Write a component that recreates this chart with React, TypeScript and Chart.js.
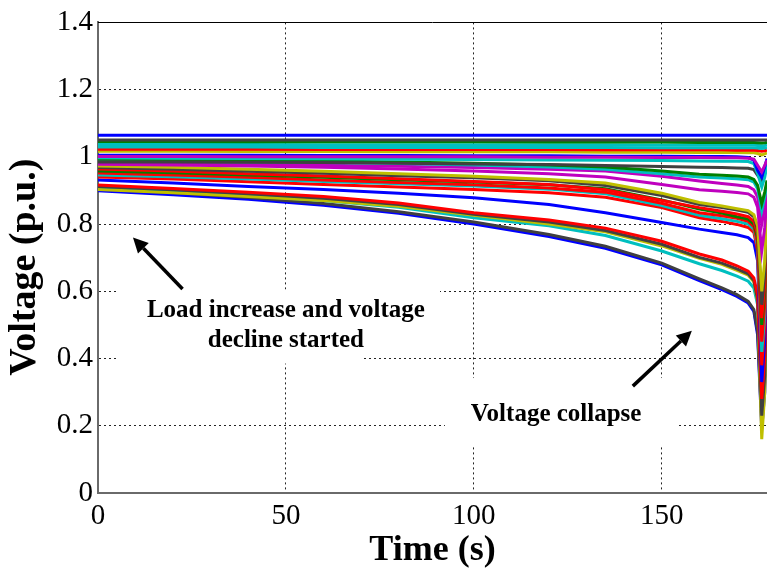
import React, { useEffect, useRef } from "react";
import { Chart, registerables } from "chart.js";

Chart.register(...registerables);

// ---------- data ----------
const timeSec = [0, 20, 40, 60, 80, 100, 120, 135, 150, 160, 166, 170, 173, 174.5, 175.5, 176.6, 177.4, 178];

const xTickValues = [0, 50, 100, 150];
const yTickValues = [0, 0.2, 0.4, 0.6, 0.8, 1, 1.2, 1.4];

// generator / strong buses (nearly constant)
const bus01 = [1.064, 1.064, 1.064, 1.064, 1.064, 1.064, 1.064, 1.064, 1.064, 1.064, 1.064, 1.064, 1.064, 1.064, 1.064, 1.064, 1.064, 1.064];
const bus02 = [1.050, 1.050, 1.050, 1.050, 1.050, 1.050, 1.050, 1.050, 1.050, 1.050, 1.050, 1.050, 1.050, 1.050, 1.050, 1.050, 1.050, 1.050];
const bus03 = [1.046, 1.046, 1.045, 1.045, 1.045, 1.045, 1.044, 1.044, 1.044, 1.043, 1.043, 1.043, 1.043, 1.043, 1.042, 1.041, 1.042, 1.043];
const bus04 = [1.037, 1.037, 1.037, 1.036, 1.036, 1.036, 1.036, 1.036, 1.035, 1.035, 1.035, 1.035, 1.035, 1.035, 1.034, 1.033, 1.034, 1.035];
const bus05 = [1.029, 1.029, 1.029, 1.028, 1.028, 1.028, 1.028, 1.028, 1.027, 1.027, 1.027, 1.027, 1.027, 1.027, 1.026, 1.025, 1.026, 1.027];
const bus06 = [1.023, 1.023, 1.023, 1.022, 1.022, 1.022, 1.022, 1.021, 1.021, 1.021, 1.021, 1.020, 1.020, 1.020, 1.019, 1.017, 1.018, 1.020];
const bus07 = [1.017, 1.017, 1.016, 1.016, 1.015, 1.015, 1.015, 1.014, 1.014, 1.013, 1.013, 1.013, 1.012, 1.012, 1.010, 1.006, 1.009, 1.012];
// upper load buses
const bus08 = [1.001, 1.001, 1.000, 1.000, 1.000, 1.000, 0.999, 0.999, 0.998, 0.998, 0.997, 0.997, 0.996, 0.993, 0.975, 0.955, 0.975, 0.990];
const bus09 = [1.005, 1.005, 1.005, 1.004, 1.004, 1.003, 1.003, 1.002, 1.002, 1.001, 1.001, 1.000, 0.998, 0.990, 0.960, 0.940, 0.970, 0.995];
const bus10 = [0.997, 0.996, 0.995, 0.994, 0.993, 0.992, 0.991, 0.990, 0.989, 0.988, 0.987, 0.987, 0.986, 0.980, 0.950, 0.910, 0.940, 0.975];
const bus11 = [0.985, 0.985, 0.984, 0.983, 0.981, 0.979, 0.977, 0.974, 0.971, 0.969, 0.968, 0.967, 0.966, 0.962, 0.945, 0.930, 0.950, 0.965];
const bus12 = [0.993, 0.992, 0.990, 0.988, 0.985, 0.981, 0.976, 0.970, 0.958, 0.948, 0.945, 0.943, 0.940, 0.933, 0.915, 0.860, 0.895, 0.930];
const bus13 = [0.988, 0.987, 0.985, 0.983, 0.980, 0.976, 0.970, 0.963, 0.950, 0.940, 0.937, 0.935, 0.932, 0.925, 0.905, 0.840, 0.880, 0.920];
const bus14 = [0.983, 0.981, 0.978, 0.975, 0.972, 0.968, 0.963, 0.958, 0.942, 0.928, 0.921, 0.916, 0.912, 0.902, 0.880, 0.800, 0.850, 0.900];
const bus15 = [0.978, 0.976, 0.973, 0.969, 0.964, 0.958, 0.950, 0.940, 0.918, 0.902, 0.898, 0.894, 0.890, 0.880, 0.850, 0.720, 0.790, 0.880];
// middle load buses
const bus16 = [0.973, 0.969, 0.963, 0.957, 0.950, 0.942, 0.933, 0.922, 0.892, 0.864, 0.854, 0.846, 0.840, 0.828, 0.795, 0.600, 0.690, 0.840];
const bus17 = [0.968, 0.963, 0.957, 0.951, 0.944, 0.938, 0.929, 0.915, 0.885, 0.858, 0.849, 0.842, 0.835, 0.822, 0.785, 0.560, 0.650, 0.830];
const bus18 = [0.964, 0.958, 0.950, 0.943, 0.935, 0.927, 0.918, 0.902, 0.870, 0.849, 0.838, 0.830, 0.822, 0.808, 0.770, 0.520, 0.620, 0.810];
const bus19 = [0.958, 0.953, 0.946, 0.939, 0.932, 0.925, 0.917, 0.905, 0.872, 0.845, 0.833, 0.822, 0.815, 0.800, 0.760, 0.500, 0.600, 0.800];
const bus20 = [0.952, 0.946, 0.939, 0.931, 0.924, 0.917, 0.907, 0.895, 0.862, 0.834, 0.825, 0.817, 0.808, 0.792, 0.745, 0.450, 0.560, 0.780];
const bus21 = [0.946, 0.941, 0.934, 0.927, 0.920, 0.913, 0.904, 0.890, 0.855, 0.826, 0.816, 0.808, 0.800, 0.785, 0.735, 0.420, 0.530, 0.760];
const bus22 = [0.940, 0.934, 0.926, 0.918, 0.910, 0.903, 0.893, 0.880, 0.849, 0.819, 0.808, 0.799, 0.790, 0.775, 0.720, 0.380, 0.500, 0.740];
const bus23 = [0.931, 0.922, 0.912, 0.903, 0.892, 0.878, 0.858, 0.834, 0.805, 0.785, 0.775, 0.768, 0.760, 0.745, 0.690, 0.330, 0.450, 0.700];
// weakest load buses
const bus24 = [0.916, 0.906, 0.895, 0.882, 0.863, 0.834, 0.812, 0.788, 0.749, 0.711, 0.693, 0.676, 0.660, 0.640, 0.590, 0.280, 0.400, 0.640];
const bus25 = [0.912, 0.902, 0.890, 0.877, 0.858, 0.829, 0.806, 0.781, 0.740, 0.701, 0.684, 0.667, 0.652, 0.632, 0.575, 0.230, 0.350, 0.620];
const bus26 = [0.903, 0.893, 0.882, 0.870, 0.853, 0.826, 0.800, 0.777, 0.735, 0.698, 0.680, 0.662, 0.648, 0.628, 0.570, 0.160, 0.300, 0.600];
const bus27 = [0.908, 0.897, 0.884, 0.870, 0.850, 0.819, 0.795, 0.766, 0.720, 0.682, 0.662, 0.645, 0.630, 0.610, 0.560, 0.250, 0.380, 0.620];
const bus28 = [0.905, 0.893, 0.879, 0.861, 0.837, 0.806, 0.769, 0.734, 0.684, 0.637, 0.610, 0.590, 0.570, 0.546, 0.480, 0.210, 0.330, 0.580];
const bus29 = [0.899, 0.887, 0.874, 0.856, 0.832, 0.800, 0.763, 0.728, 0.679, 0.632, 0.605, 0.585, 0.565, 0.540, 0.470, 0.190, 0.300, 0.560];

const busSeries = [
  bus01, bus02, bus03, bus04, bus05, bus06, bus07, bus08, bus09, bus10,
  bus11, bus12, bus13, bus14, bus15, bus16, bus17, bus18, bus19, bus20,
  bus21, bus22, bus23, bus24, bus25, bus26, bus27, bus28, bus29,
];

// ---------- styles ----------
const BLUE = "#0000FF";
const GREEN = "#008000";
const RED = "#FF0000";
const CYAN = "#00BFBF";
const MAGENTA = "#BF00BF";
const YELLOW = "#BFBF00";
const DGRAY = "#404040";

const lineColors = [
  BLUE, DGRAY, GREEN, CYAN, CYAN, RED, YELLOW, MAGENTA, BLUE, CYAN,
  DGRAY, GREEN, CYAN, MAGENTA, MAGENTA, YELLOW, DGRAY, RED, GREEN, RED,
  CYAN, RED, BLUE, RED, DGRAY, YELLOW, CYAN, DGRAY, BLUE,
];

const SERIF = '"Liberation Serif", "Times New Roman", Times, serif';

// annotations (in data coordinates)
const noteBoxes = [
  { t0: 5.3, t1: 91, v0: 0.42, v1: 0.605 },
  { t0: 5.3, t1: 70, v0: 0.385, v1: 0.42 },
  { t0: 92.3, t1: 154.3, v0: 0.142, v1: 0.342 },
];
const noteTexts = [
  { text: "Load increase and voltage", t: 50, v: 0.525 },
  { text: "decline started", t: 50, v: 0.435 },
  { text: "Voltage collapse", t: 121.9, v: 0.215 },
];
const noteArrows = [
  { t0: 22.5, v0: 0.607, t1: 9.3, v1: 0.76 },
  { t0: 142.3, v0: 0.318, t1: 158.0, v1: 0.483 },
];

function drawArrow(ctx: CanvasRenderingContext2D, x1: number, y1: number, x2: number, y2: number) {
  const ang = Math.atan2(y2 - y1, x2 - x1);
  const headLen = 15;
  const headW = 7.5;
  const bx = x2 - headLen * Math.cos(ang);
  const by = y2 - headLen * Math.sin(ang);
  ctx.lineWidth = 3.5;
  ctx.strokeStyle = "#000";
  ctx.fillStyle = "#000";
  ctx.beginPath();
  ctx.moveTo(x1, y1);
  ctx.lineTo(bx, by);
  ctx.stroke();
  ctx.beginPath();
  ctx.moveTo(x2, y2);
  ctx.lineTo(bx + headW * Math.sin(ang), by - headW * Math.cos(ang));
  ctx.lineTo(bx - headW * Math.sin(ang), by + headW * Math.cos(ang));
  ctx.closePath();
  ctx.fill();
}

const annotationPlugin = {
  id: "voltageNotes",
  beforeDatasetsDraw(chart: any) {
    const { ctx, scales, chartArea } = chart;
    const xs = scales.x;
    const ys = scales.y;
    ctx.save();
    ctx.fillStyle = "#fff";
    for (const b of noteBoxes) {
      const x0 = xs.getPixelForValue(b.t0);
      const x1 = xs.getPixelForValue(b.t1);
      const y0 = ys.getPixelForValue(b.v1);
      const y1 = ys.getPixelForValue(b.v0);
      ctx.fillRect(x0, y0, x1 - x0, y1 - y0);
    }
    // top border of the axes box
    ctx.strokeStyle = "#000";
    ctx.lineWidth = 1;
    ctx.beginPath();
    ctx.moveTo(chartArea.left, Math.round(chartArea.top) + 0.5);
    ctx.lineTo(chartArea.right, Math.round(chartArea.top) + 0.5);
    ctx.stroke();
    ctx.restore();
  },
  afterDatasetsDraw(chart: any) {
    const { ctx, scales } = chart;
    const xs = scales.x;
    const ys = scales.y;
    ctx.save();
    ctx.font = `bold 25px ${SERIF}`;
    ctx.fillStyle = "#000";
    ctx.textAlign = "center";
    ctx.textBaseline = "alphabetic";
    for (const n of noteTexts) {
      ctx.fillText(n.text, xs.getPixelForValue(n.t), ys.getPixelForValue(n.v));
    }
    for (const a of noteArrows) {
      drawArrow(
        ctx,
        xs.getPixelForValue(a.t0),
        ys.getPixelForValue(a.v0),
        xs.getPixelForValue(a.t1),
        ys.getPixelForValue(a.v1)
      );
    }
    ctx.restore();
  },
};

export default function App() {
  const canvasRef = useRef<HTMLCanvasElement>(null);

  useEffect(() => {
    if (!canvasRef.current) return;
    const datasets = busSeries.map((vals, i) => ({
      label: `Bus ${i + 1}`,
      data: vals.map((v, j) => ({ x: timeSec[j], y: v })),
      borderColor: lineColors[i],
      backgroundColor: lineColors[i],
      borderWidth: 3,
      pointRadius: 0,
      tension: 0,
      fill: false,
    }));

    const chart = new Chart(canvasRef.current, {
      type: "line",
      data: { datasets },
      plugins: [annotationPlugin],
      options: {
        animation: false,
        responsive: false,
        devicePixelRatio: 1,
        layout: { padding: { top: 18, left: 0, right: 0, bottom: 0 } },
        plugins: {
          legend: { display: false },
          tooltip: { enabled: false },
        },
        scales: {
          x: {
            type: "linear",
            min: 0,
            max: 178,
            afterBuildTicks: (s: any) => {
              s.ticks = xTickValues.map((v) => ({ value: v }));
            },
            afterFit: (s: any) => {
              s.height = 76;
              s.paddingLeft = 0;
              s.paddingRight = 0;
            },
            ticks: {
              color: "#000",
              font: { family: SERIF, size: 29 },
              padding: 6,
              maxRotation: 0,
              autoSkip: false,
              callback: (v: any) => String(v),
            },
            grid: {
              color: (c: any) => (c.tick && c.tick.value === 0 ? "rgba(0,0,0,0)" : "#222"),
              lineWidth: 1,
              drawTicks: false,
            },
            border: { display: true, color: "#6a6a6a", width: 2, dash: [2, 3] },
            title: {
              display: true,
              text: "Time (s)",
              color: "#000",
              font: { family: SERIF, size: 36, weight: "bold" },
              padding: { top: 0, bottom: -3 },
            },
          },
          y: {
            type: "linear",
            min: 0,
            max: 1.4,
            afterBuildTicks: (s: any) => {
              s.ticks = yTickValues.map((v) => ({ value: v }));
            },
            afterFit: (s: any) => {
              s.width = 98;
            },
            ticks: {
              color: "#000",
              font: { family: SERIF, size: 29 },
              padding: 5,
              callback: (v: any) => String(Math.round(Number(v) * 10) / 10),
            },
            grid: {
              color: (c: any) =>
                c.tick && (c.tick.value === 0 || c.tick.value > 1.39) ? "rgba(0,0,0,0)" : "#222",
              lineWidth: 1,
              drawTicks: false,
            },
            border: { display: true, color: "#6a6a6a", width: 2, dash: [2, 3] },
            title: {
              display: true,
              text: "Voltage (p.u.)  ",
              color: "#000",
              font: { family: SERIF, size: 38, weight: "bold" },
              padding: { top: 2, bottom: 0 },
            },
          },
        },
      } as any,
    });
    return () => chart.destroy();
  }, []);

  return (
    <div
      style={{
        position: "fixed",
        left: 0,
        top: 0,
        width: 767,
        height: 569,
        overflow: "hidden",
        background: "#fff",
      }}
    >
      <canvas ref={canvasRef} width={767} height={569} style={{ display: "block" }} />
    </div>
  );
}
